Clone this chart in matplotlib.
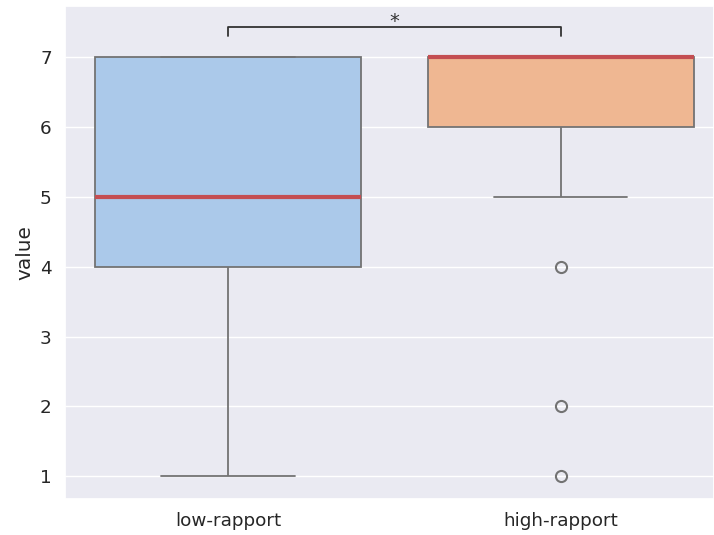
import numpy as np
import pandas as pd
import matplotlib
matplotlib.use("Agg")
import matplotlib.pyplot as plt
import seaborn as sns

# raw scores per condition
groups = ["low-rapport", "high-rapport"]
low_rapport = [1, 3, 4, 4, 4, 5, 5, 5, 6, 7, 7, 7, 7]
high_rapport = [1, 2, 4, 5, 6, 6, 6, 7, 7, 7, 7, 7, 7, 7, 7, 7, 7]
sig_label = "*"

df = pd.DataFrame({
    "condition": [groups[0]] * len(low_rapport) + [groups[1]] * len(high_rapport),
    "value": low_rapport + high_rapport,
})

sns.set_theme(style="darkgrid", font_scale=1.2)

fig, ax = plt.subplots(figsize=(7.14, 5.35), dpi=100)
sns.boxplot(data=df, x="condition", y="value", hue="condition", palette="pastel",
            order=groups, hue_order=groups, legend=False, width=0.8, ax=ax,
            linewidth=1.3, fliersize=8,
            flierprops=dict(markeredgewidth=1.5),
            medianprops=dict(color="#c44e52", linewidth=3))

# significance bracket
y_bar, y_tick = 7.43, 7.31
ax.plot([0, 0, 1, 1], [y_tick, y_bar, y_bar, y_tick], color="#333333", linewidth=1.3)
ax.text(0.5, 7.52, sig_label, ha="center", va="center", fontsize=14, color="#333333")

ax.set_xlim(-0.49, 1.46)
ax.set_ylim(0.68, 7.73)
ax.set_xlabel("")
ax.set_ylabel("value")

fig.subplots_adjust(left=0.091, right=1.0, bottom=0.068, top=0.988)
fig.savefig("out.png", dpi=100)
